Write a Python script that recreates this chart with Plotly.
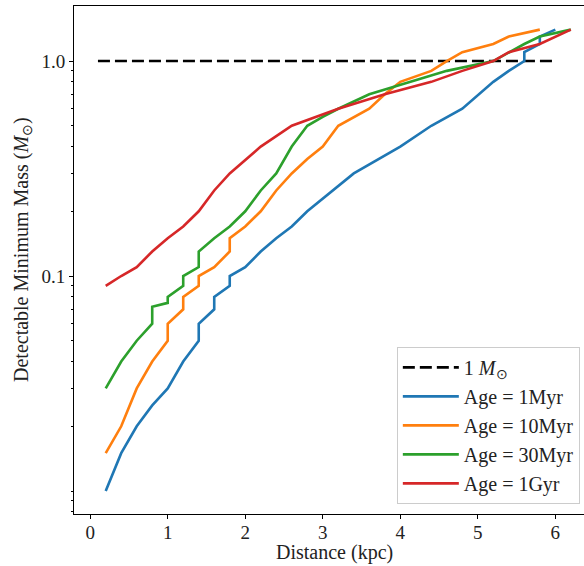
import plotly.graph_objects as go

# ---- data ----
ref_x = [0.1, 6.0]
ref_y = [1.0, 1.0]

x_1myr = [0.2, 0.4, 0.6, 0.8, 1.0, 1.2, 1.4, 1.4, 1.6, 1.6, 1.8, 1.8, 2.0, 2.2, 2.4, 2.6, 2.8,
          3.4, 4.0, 4.4, 4.8, 5.2, 5.4, 5.6, 5.6, 5.8, 5.8, 6.0]
y_1myr = [0.01, 0.015, 0.02, 0.025, 0.03, 0.04, 0.05, 0.06, 0.07, 0.08, 0.09, 0.1, 0.11, 0.13, 0.15,
          0.17, 0.2, 0.3, 0.4, 0.5, 0.6, 0.8, 0.9, 1.0, 1.1, 1.2, 1.3, 1.4]

x_10myr = [0.2, 0.4, 0.6, 0.8, 1.0, 1.0, 1.2, 1.2, 1.4, 1.4, 1.6, 1.8, 1.8, 2.0, 2.2, 2.4, 2.6,
           2.8, 3.0, 3.2, 3.6, 3.8, 4.0, 4.4, 4.6, 4.8, 5.2, 5.4, 5.8]
y_10myr = [0.015, 0.02, 0.03, 0.04, 0.05, 0.06, 0.07, 0.08, 0.09, 0.1, 0.11, 0.13, 0.15, 0.17, 0.2,
           0.25, 0.3, 0.35, 0.4, 0.5, 0.6, 0.7, 0.8, 0.9, 1.0, 1.1, 1.2, 1.3, 1.4]

x_30myr = [0.2, 0.4, 0.6, 0.8, 0.8, 1.0, 1.0, 1.2, 1.2, 1.4, 1.4, 1.6, 1.8, 2.0, 2.2, 2.4, 2.6,
           2.8, 3.0, 3.2, 3.6, 4.2, 4.6, 5.2, 5.4, 5.6, 5.8, 6.2]
y_30myr = [0.03, 0.04, 0.05, 0.06, 0.072, 0.075, 0.08, 0.09, 0.1, 0.11, 0.13, 0.15, 0.17, 0.2, 0.25,
           0.3, 0.4, 0.5, 0.55, 0.6, 0.7, 0.81, 0.9, 1.0, 1.1, 1.2, 1.3, 1.4]

x_1gyr = [0.2, 0.4, 0.6, 0.8, 1.0, 1.2, 1.4, 1.6, 1.8, 2.2, 2.6, 3.2, 3.8, 4.4, 4.8, 5.2, 5.4, 5.8, 6.2]
y_1gyr = [0.09, 0.1, 0.11, 0.13, 0.15, 0.17, 0.2, 0.25, 0.3, 0.4, 0.5, 0.6, 0.7, 0.8, 0.9, 1.0, 1.1,
          1.2, 1.4]

series_names = ["Age = 1Myr", "Age = 10Myr", "Age = 30Myr", "Age = 1Gyr"]
series_colors = ["#1f77b4", "#ff7f0e", "#2ca02c", "#d62728"]

x_ticks = [0, 1, 2, 3, 4, 5, 6]
y_major_ticks = [0.1, 1.0]
y_major_labels = ["0.1", "1.0"]
y_minor_ticks = [0.008, 0.009, 0.01, 0.02, 0.03, 0.04, 0.05, 0.06, 0.07, 0.08, 0.09,
                 0.2, 0.3, 0.4, 0.5, 0.6, 0.7, 0.8, 0.9]

FONT = "Liberation Serif"
TXT = "#222"

fig = go.Figure()
fig.add_trace(go.Scatter(x=ref_x, y=ref_y, mode="lines", name="1 <i>M</i><sub>⊙</sub>",
                         line=dict(color="black", width=2.6, dash="12px,5px"), legendgroup="a"))
for xs, ys, nm, col, g in zip([x_1myr, x_10myr, x_30myr, x_1gyr],
                              [y_1myr, y_10myr, y_30myr, y_1gyr],
                              series_names, series_colors, ["b", "c", "d", "e"]):
    fig.add_trace(go.Scatter(x=xs, y=ys, mode="lines", name=nm,
                             line=dict(color=col, width=2.6), legendgroup=g))

fig.update_layout(
    width=584, height=566,
    margin=dict(l=74, r=0, t=6, b=52),
    plot_bgcolor="white", paper_bgcolor="white",
    font=dict(family=FONT, size=19, color=TXT),
    showlegend=True,
    legend=dict(x=0.633, y=0.329, xanchor="left", yanchor="top",
                bgcolor="rgba(255,255,255,0.85)", bordercolor="#cccccc", borderwidth=1,
                font=dict(family=FONT, size=20, color=TXT), tracegroupgap=0,
                itemwidth=56),
    xaxis=dict(range=[-0.209, 6.37], tickmode="array", tickvals=x_ticks,
               ticks="outside", ticklen=4, tickwidth=1, tickcolor="black",
               ticklabelstandoff=-3,
               showline=True, linecolor="black", linewidth=1, mirror=True,
               showgrid=False, zeroline=False,
               tickfont=dict(family=FONT, size=19, color=TXT)),
    yaxis=dict(type="log", range=[-2.107, 0.256], tickmode="array",
               tickvals=y_major_ticks, ticktext=y_major_labels,
               ticks="outside", ticklen=4, tickwidth=1, tickcolor="black",
               minor=dict(tickmode="array", tickvals=y_minor_ticks, ticks="outside",
                          ticklen=2.5, tickwidth=1, tickcolor="black", showgrid=False),
               showline=True, linecolor="black", linewidth=1,
               showgrid=False, zeroline=False,
               tickfont=dict(family=FONT, size=19, color=TXT)),
    annotations=[
        dict(text="Distance (kpc)", xref="paper", yref="paper", x=(334 - 74) / 510, y=0,
             yshift=-38, xanchor="center", yanchor="middle", showarrow=False,
             font=dict(family=FONT, size=20, color=TXT)),
        dict(text="Detectable Minimum Mass (<i>M</i><sub>⊙</sub>)", xref="paper", yref="paper",
             x=0, y=(514 - 250) / 508, xshift=-52, xanchor="center", yanchor="middle",
             textangle=-90, showarrow=False, font=dict(family=FONT, size=20, color=TXT)),
    ],
)

fig.write_html("out.html")
